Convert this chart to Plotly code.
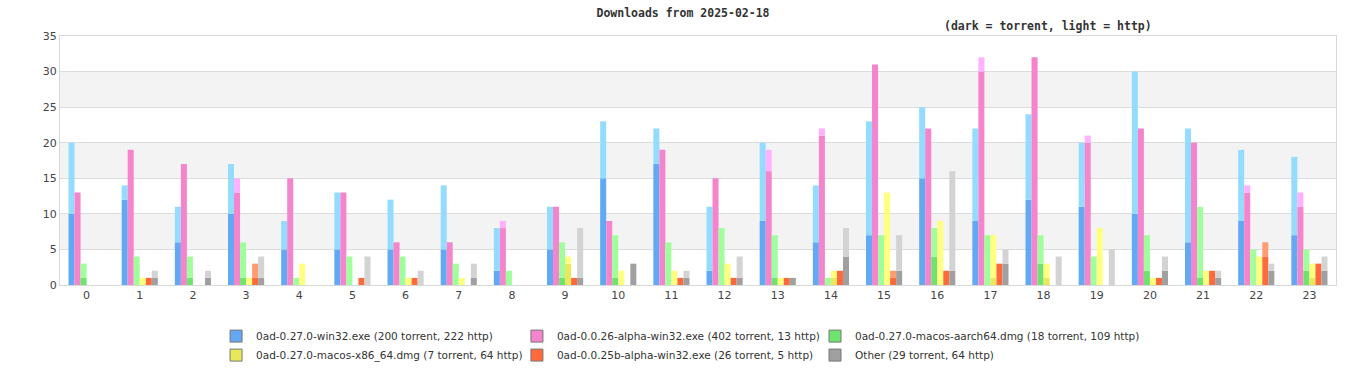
import plotly.graph_objects as go

hours = list(range(24))

series_names = [
    "0ad-0.27.0-win32.exe",
    "0ad-0.0.26-alpha-win32.exe",
    "0ad-0.27.0-macos-aarch64.dmg",
    "0ad-0.27.0-macos-x86_64.dmg",
    "0ad-0.0.25b-alpha-win32.exe",
    "Other",
]

win32_torrent = [10, 12, 6, 10, 5, 5, 5, 5, 2, 5, 15, 17, 2, 9, 6, 7, 15, 9, 12, 11, 10, 6, 9, 7]
win32_http = [10, 2, 5, 7, 4, 8, 7, 9, 6, 6, 8, 5, 9, 11, 8, 16, 10, 13, 12, 9, 20, 16, 10, 11]

alpha26_torrent = [13, 19, 17, 13, 15, 13, 6, 6, 8, 11, 9, 19, 15, 16, 21, 31, 22, 30, 32, 20, 22, 20, 13, 11]
alpha26_http = [0, 0, 0, 2, 0, 0, 0, 0, 1, 0, 0, 0, 0, 3, 1, 0, 0, 2, 0, 1, 0, 0, 1, 2]

aarch64_torrent = [1, 0, 1, 1, 0, 0, 0, 0, 0, 1, 1, 0, 0, 1, 0, 0, 4, 0, 3, 0, 2, 1, 0, 2]
aarch64_http = [2, 4, 3, 5, 1, 4, 4, 3, 2, 5, 6, 6, 8, 6, 1, 7, 4, 7, 4, 4, 5, 10, 5, 3]

x86_torrent = [0, 0, 0, 0, 0, 0, 0, 0, 0, 3, 0, 0, 0, 0, 1, 0, 0, 1, 1, 0, 0, 0, 0, 1]
x86_http = [0, 1, 0, 1, 3, 0, 1, 1, 0, 1, 2, 2, 3, 1, 1, 13, 9, 6, 2, 8, 1, 2, 4, 2]

alpha25_torrent = [0, 1, 0, 1, 0, 1, 1, 0, 0, 1, 0, 1, 1, 1, 2, 1, 2, 3, 0, 0, 1, 2, 4, 3]
alpha25_http = [0, 0, 0, 2, 0, 0, 0, 0, 0, 0, 0, 0, 0, 0, 0, 1, 0, 0, 0, 0, 0, 0, 2, 0]

other_torrent = [0, 1, 1, 1, 0, 0, 0, 1, 0, 1, 3, 1, 1, 1, 4, 2, 2, 3, 0, 0, 2, 1, 2, 2]
other_http = [0, 1, 1, 3, 0, 4, 2, 2, 0, 7, 0, 1, 3, 0, 4, 5, 14, 2, 4, 5, 2, 1, 1, 2]

torrent = [win32_torrent, alpha26_torrent, aarch64_torrent, x86_torrent, alpha25_torrent, other_torrent]
http = [win32_http, alpha26_http, aarch64_http, x86_http, alpha25_http, other_http]

y_ticks = [0, 5, 10, 15, 20, 25, 30, 35]

dark_colors = ["#62a8f2", "#f484cc", "#6ee46e", "#e8e85a", "#ff6a3c", "#a0a0a0"]
light_colors = ["#94dcff", "#ffb0ff", "#a0ff9c", "#ffff80", "#ff9c72", "#d3d3d3"]

legend_ids = ["legend", "legend2", "legend3"]

fig = go.Figure()

for i, name in enumerate(series_names):
    grp = str(i)
    fig.add_trace(go.Bar(
        x=hours, y=torrent[i], offsetgroup=grp,
        marker=dict(color=dark_colors[i], line=dict(width=0)),
        showlegend=False, hoverinfo="skip",
    ))
    fig.add_trace(go.Bar(
        x=hours, y=http[i], base=torrent[i], offsetgroup=grp,
        marker=dict(color=light_colors[i], line=dict(width=0)),
        showlegend=False, hoverinfo="skip",
    ))
    # legend-only entry (legend laid out in 3 columns x 2 rows)
    fig.add_trace(go.Bar(
        x=[None], y=[None], offsetgroup=grp,
        name=f"{name} ({sum(torrent[i])} torrent, {sum(http[i])} http)",
        marker=dict(color=dark_colors[i], line=dict(width=1, color="#777777")),
        legend=legend_ids[i % 3],
        showlegend=True, hoverinfo="skip",
    ))

# alternating background bands
for k in range(1, len(y_ticks) - 1, 2):
    fig.add_shape(type="rect", xref="paper", yref="y", x0=0, x1=1,
                  y0=y_ticks[k], y1=y_ticks[k + 1],
                  fillcolor="#f3f3f3", line=dict(width=0), layer="below")

fig.add_annotation(
    text="(dark = torrent, light = http)", xref="paper", yref="paper",
    x=0.774, y=1.04, xanchor="center", yanchor="middle", showarrow=False,
    font=dict(family="DejaVu Sans Mono", size=11.5, color="#333333", weight="bold"),
)

legend_common = dict(
    orientation="v", xanchor="left", yanchor="top", y=-0.147,
    font=dict(family="DejaVu Sans", size=10.5, color="#333333"),
    itemwidth=30, bgcolor="rgba(0,0,0,0)", tracegroupgap=0,
)

fig.update_layout(
    width=1366, height=380,
    margin=dict(l=60, r=30, t=36, b=95, autoexpand=False),
    paper_bgcolor="white", plot_bgcolor="white",
    barmode="group", bargap=0.32, bargroupgap=0,
    title=dict(
        text="Downloads from 2025-02-18", x=0.5, xanchor="center",
        y=1 - 13 / 380, yanchor="middle", yref="container",
        font=dict(family="DejaVu Sans Mono", size=11.5, color="#333333", weight="bold"),
    ),
    xaxis=dict(
        range=[-0.5, 23.5], tickmode="array", tickvals=hours,
        ticktext=[str(h) for h in hours], showgrid=False, zeroline=False,
        showline=True, mirror=True, linecolor="#d8d8d8", linewidth=1,
        ticks="", tickfont=dict(family="DejaVu Sans", size=11, color="#444444"),
    ),
    yaxis=dict(
        range=[0, 35], tickmode="array", tickvals=y_ticks,
        showgrid=True, gridcolor="#dcdcdc", gridwidth=1, zeroline=False,
        showline=True, mirror=True, linecolor="#d8d8d8", linewidth=1,
        ticks="", tickfont=dict(family="DejaVu Sans", size=11, color="#444444"),
    ),
    legend=dict(x=0.1223, **legend_common),
    legend2=dict(x=0.3581, **legend_common),
    legend3=dict(x=0.5917, **legend_common),
    hovermode=False,
)

fig.write_html(
    "out.html",
    config={"displayModeBar": False},
    post_script="document.body.style.margin='0px';document.body.style.padding='0px';",
)
